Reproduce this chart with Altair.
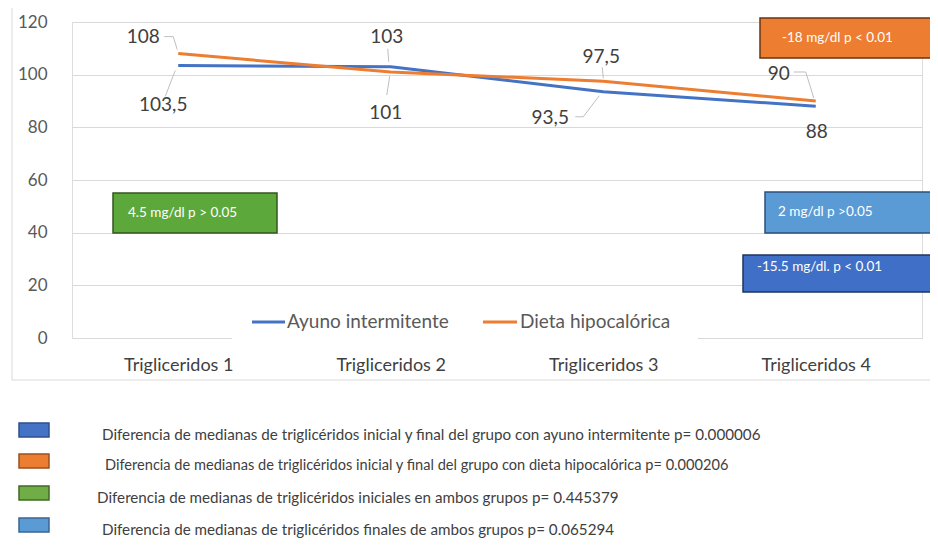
import altair as alt
import pandas as pd

# ---- data ----
categories = ["Trigliceridos 1", "Trigliceridos 2", "Trigliceridos 3", "Trigliceridos 4"]
series = ["Ayuno intermitente", "Dieta hipocalórica"]
ayuno = [103.5, 103, 93.5, 88]
dieta = [108, 101, 97.5, 90]
series_colors = ["#4472C4", "#ED7D31"]
y_ticks = [0, 20, 40, 60, 80, 100, 120]

box_texts = ["-18 mg/dl p < 0.01", "4.5 mg/dl p > 0.05", "2 mg/dl p >0.05", "-15.5 mg/dl. p < 0.01"]
box_fills = ["#ED7D31", "#5DA83A", "#5B9BD5", "#3F6FC6"]
box_strokes = ["#6b3410", "#34561f", "#2b4f7a", "#1f3560"]

note_texts = [
    "Diferencia de medianas de triglicéridos inicial y final del grupo con ayuno intermitente p= 0.000006",
    "Diferencia de medianas de triglicéridos inicial y final del grupo con dieta hipocalórica p= 0.000206",
    "Diferencia de medianas de triglicéridos iniciales en ambos grupos p= 0.445379",
    "Diferencia de medianas de triglicéridos finales de ambos grupos p= 0.065294",
]
note_fills = ["#4472C4", "#ED7D31", "#70AD47", "#5B9BD5"]
note_strokes = ["#2F4F8F", "#9c5020", "#3f6a25", "#3a6590"]

FONT = "Lato"

# ---- layout (plot area 850 x 316) ----
W, H = 850, 316
PX_X = W / 4.0      # px per category unit
PX_Y = H / 120.0    # px per y unit

rows = []
for s, vals in zip(series, [ayuno, dieta]):
    for i, v in enumerate(vals):
        rows.append({"idx": i + 1, "cat": categories[i], "series": s, "value": v,
                     "label": (("%g" % v).replace(".", ","))})
df = pd.DataFrame(rows)

labelexpr = "[" + ",".join("'%s'" % c for c in categories) + "][datum.value - 1]"

x_enc = alt.X("idx:Q",
              scale=alt.Scale(domain=[0.5, 4.5], nice=False, zero=False),
              axis=alt.Axis(values=[1, 2, 3, 4], labelExpr=labelexpr, title=None, grid=False,
                            domain=False, ticks=False, labelFont=FONT, labelFontSize=18,
                            labelColor="#404040", labelPadding=18))
y_enc = alt.Y("value:Q",
              scale=alt.Scale(domain=[0, 120], nice=False),
              axis=alt.Axis(values=y_ticks, title=None, domain=False, ticks=False,
                            gridColor="#d9d9d9", gridWidth=1, labelFont=FONT, labelFontSize=17,
                            labelColor="#595959", labelPadding=25))
color_enc = alt.Color("series:N", scale=alt.Scale(domain=series, range=series_colors), legend=None)

layers = []
base = alt.Chart(df)
layers.append(base.mark_line(strokeWidth=3).encode(x=x_enc, y=y_enc, color=color_enc))

# leader lines (offsets in px from the data point)
leaders = [
    ("Dieta hipocalórica", 1, [(-14, -17), (-5, -17), (-1, -4)]),
    ("Ayuno intermitente", 1, [(-13, 31), (-3, 5)]),
    ("Ayuno intermitente", 2, [(-3, -18), (-2, -5)]),
    ("Dieta hipocalórica", 2, [(-4, 23), (-1, 4)]),
    ("Dieta hipocalórica", 3, [(-1, -14), (0, -3)]),
    ("Ayuno intermitente", 3, [(-28, 25), (-20, 25), (-4, 4)]),
    ("Dieta hipocalórica", 4, [(-22, -29), (-10, -29), (-2, -3)]),
]
lrows = []
for k, (s, i, pts) in enumerate(leaders):
    v = (ayuno if s == series[0] else dieta)[i - 1]
    for o, (dx, dy) in enumerate(pts):
        lrows.append({"id": k, "ord": o, "idx": i + dx / PX_X, "value": v - dy / PX_Y})
ldf = pd.DataFrame(lrows)
layers.append(alt.Chart(ldf).mark_line(color="#bfbfbf", strokeWidth=1).encode(
    x=x_enc, y=y_enc, detail="id:N", order="ord:Q"))

# data labels
label_pos = [
    ("Dieta hipocalórica", 1, -35, -17),
    ("Ayuno intermitente", 1, -15, 40),
    ("Ayuno intermitente", 2, -4, -30),
    ("Dieta hipocalórica", 2, -5, 41),
    ("Dieta hipocalórica", 3, -2, -24),
    ("Ayuno intermitente", 3, -53, 26),
    ("Dieta hipocalórica", 4, -37, -27),
    ("Ayuno intermitente", 4, 1, 26),
]
for s, i, dx, dy in label_pos:
    layers.append(
        base.transform_filter((alt.datum.series == s) & (alt.datum.idx == i))
        .mark_text(dx=dx, dy=dy, font=FONT, fontSize=19, color="#404040", baseline="middle")
        .encode(x=x_enc, y=y_enc, text="label:N"))

one = pd.DataFrame({"a": [0]})

def rect(x0, x1, y0, y1, fill, stroke=None, sw=1):
    kw = dict(fill=fill)
    if stroke:
        kw.update(stroke=stroke, strokeWidth=sw)
    else:
        kw.update(strokeWidth=0)
    return alt.Chart(one).mark_rect(**kw).encode(
        x=alt.value(x0), x2=alt.value(x1), y=alt.value(y0), y2=alt.value(y1))

def text(x, y, t, size, color, align="left", font=FONT):
    return alt.Chart(one).mark_text(align=align, baseline="middle", font=font,
                                    fontSize=size, color=color).encode(
        x=alt.value(x), y=alt.value(y), text=alt.value(t))

def rule(x0, x1, y0, y1, color, sw):
    return alt.Chart(one).mark_rule(color=color, strokeWidth=sw).encode(
        x=alt.value(x0), x2=alt.value(x1), y=alt.value(y0), y2=alt.value(y1))

# inner legend
layers.append(rect(160, 626, 286, 318, "white"))
layers.append(rule(180, 213, 300, 300, series_colors[0], 3))
layers.append(text(215, 300, series[0], 19, "#595959"))
layers.append(rule(411, 445, 300, 300, series_colors[1], 3))
layers.append(text(448, 300, series[1], 19, "#595959"))

# annotation boxes
boxes = [
    (688, 860, -4, 36, 710, 16),
    (41, 205, 171, 211, 56, 191),
    (693, 860, 170, 211, 706, 190),
    (671, 860, 233, 270, 685, 245),
]
for (x0, x1, y0, y1, tx, ty), t, f, st in zip(boxes, box_texts, box_fills, box_strokes):
    layers.append(rect(x0, x1, y0, y1, f, st, 1.5))
    layers.append(text(tx, ty, t, 13.5, "white"))

# chart frame
layers.append(rule(-60, -60, -22, 358, "#d9d9d9", 1))
layers.append(rule(-60, 866, 358, 358, "#d9d9d9", 1))

# bottom notes
sw_y = [408, 439, 471, 503]
tx_x = [30, 33, 25, 30]
note_sizes = [15.2, 14.6, 15.2, 15.2]
for yy, xx, t, f, st, fs in zip(sw_y, tx_x, note_texts, note_fills, note_strokes, note_sizes):
    layers.append(rect(-53, -23, yy - 7, yy + 7, f, st, 1.5))
    layers.append(text(xx, yy + 5, t, fs, "#404040"))

chart = alt.layer(*layers).properties(
    width=W, height=H,
    autosize=alt.AutoSizeParams(type="none"),
    padding={"left": 64, "top": 14, "right": 8, "bottom": 204},
).configure_view(stroke=None).configure(background="white")

chart.save("out.html", embed_options={"renderer": "svg", "actions": False})
